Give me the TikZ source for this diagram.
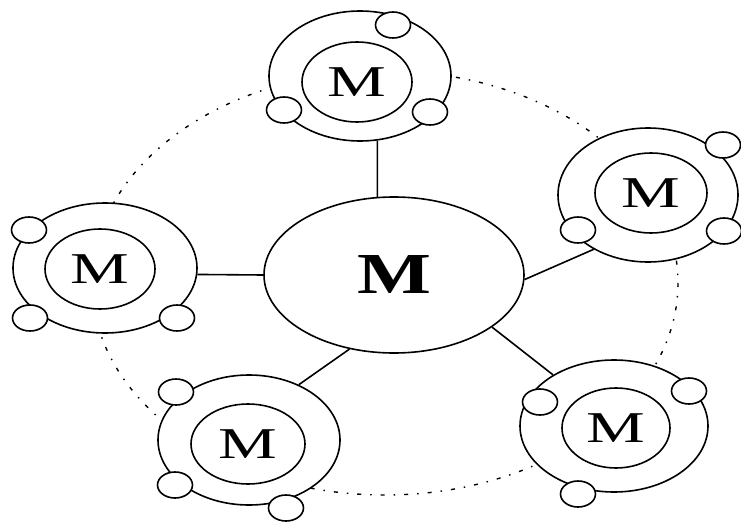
\documentclass[tikz,border=0pt]{standalone}
\usepackage{fontspec}
\usepackage{graphicx}
\setmainfont{Liberation Serif}
\usetikzlibrary{shapes.geometric}
\newcommand\satM{\scalebox{1.5}[1]{\fontsize{44}{44}\selectfont M}}
\begin{document}
\begin{tikzpicture}[x=1pt,y=-1pt,
 ring/.style={ellipse,draw,line width=1.6pt,fill=white,inner sep=0pt,minimum width=182pt,minimum height=130pt},
 core/.style={ellipse,draw,line width=1.6pt,inner sep=0pt,minimum width=110pt,minimum height=80pt},
 bead/.style={ellipse,draw,line width=1.6pt,fill=white,inner sep=0pt,minimum width=35pt,minimum height=26pt},
 spoke/.style={line width=1.6pt},
 orbitline/.style={line width=1.4pt,dash pattern=on 4pt off 9pt on 1.5pt off 9pt}]
\fill[white] (0,0) rectangle (741,524);
\useasboundingbox (0,0) rectangle (741,524);
\draw[orbitline] (385,283) ellipse [x radius=293, y radius=212];
% centre
\node[ellipse,draw,line width=1.6pt,fill=white,inner sep=0pt,minimum width=260pt,minimum height=156pt] (c) at (394,275)
  {\scalebox{1.35}[1]{\fontsize{58}{58}\selectfont\bfseries M}};
% top satellite
\node[ring] (s1) at (360,76) {};
\node[core] (m1) at (357,82) {\satM};
\node[bead] (b11) at (393,25) {};
\node[bead] (b12) at (284,110) {};
\node[bead] (b13) at (430,112) {};
% left satellite
\node[ring,minimum width=184pt] (s2) at (105,268) {};
\node[core] (m2) at (100,269) {\satM};
\node[bead] (b21) at (29,230) {};
\node[bead] (b22) at (30,318) {};
\node[bead] (b23) at (177,318) {};
% bottom-left satellite
\node[ring] (s3) at (249,440) {};
\node[core,minimum width=114pt] (m3) at (248,444) {\satM};
\node[bead] (b31) at (176,392) {};
\node[bead] (b32) at (175,485) {};
\node[bead] (b33) at (286,508) {};
% bottom-right satellite
\node[ring,minimum width=188pt,minimum height=132pt] (s4) at (614,426) {};
\node[core,minimum width=108pt] (m4) at (616,428) {\satM};
\node[bead] (b41) at (540,402) {};
\node[bead] (b42) at (689,391) {};
\node[bead] (b43) at (578,494) {};
% right satellite
\node[ring,minimum width=180pt,minimum height=134pt] (s5) at (648,195) {};
\node[core,minimum width=112pt] (m5) at (651,193) {\satM};
\node[bead] (b51) at (723,145) {};
\node[bead] (b52) at (578,230) {};
\node[bead] (b53) at (724,231) {};
% spokes
\draw[spoke] (c.102.4) -- (s1.-75);
\draw[spoke] (s2.-4.4) -- (c.180);
\draw[spoke] (s3.48) -- (c.239);
\draw[spoke] (c.-28.7) -- (s4.140.7);
\draw[spoke] (c.-2) -- (s5.225);
\end{tikzpicture}
\end{document}
